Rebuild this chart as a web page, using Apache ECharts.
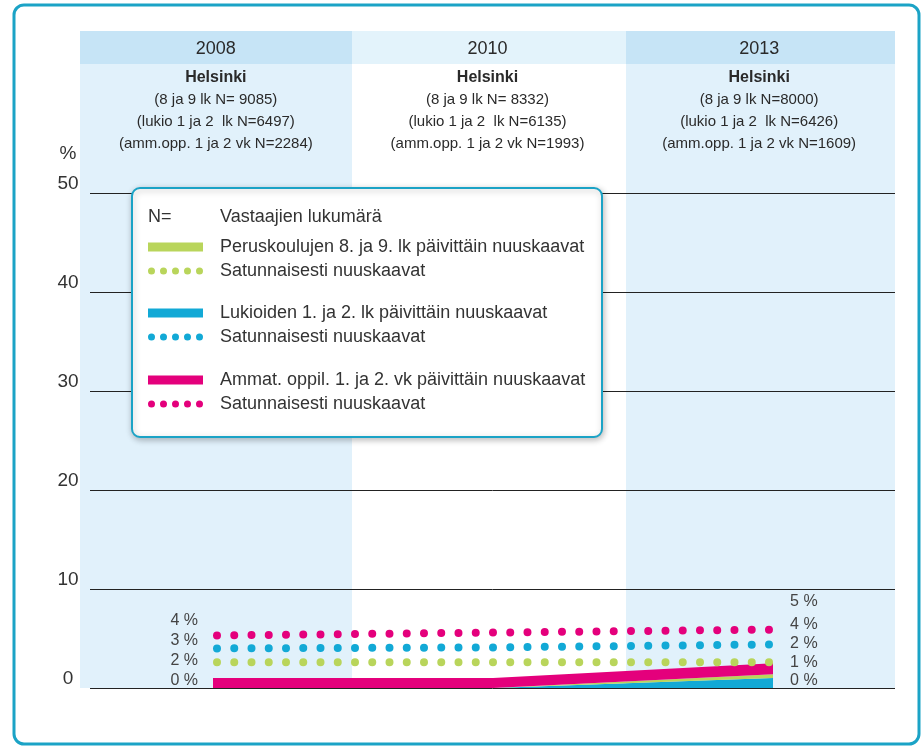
<!DOCTYPE html>
<html>
<head>
<meta charset="utf-8">
<title>Nuuskaaminen Helsingissä 2008-2013</title>
<script src="https://cdn.jsdelivr.net/npm/echarts@6/dist/echarts.min.js"></script>
<style>
  html, body { margin: 0; padding: 0; background: #fff; }
  #chart { width: 922px; height: 751px; }
</style>
</head>
<body>
<div id="chart"></div>
<script>
// vuodet ja otoskoot
var years = ['2008', '2010', '2013'];
var cities = ['Helsinki', 'Helsinki', 'Helsinki'];
var nPerus = ['(8 ja 9 lk N= 9085)', '(8 ja 9 lk N= 8332)', '(8 ja 9 lk N=8000)'];
var nLukio = ['(lukio 1 ja 2  lk N=6497)', '(lukio 1 ja 2  lk N=6135)', '(lukio 1 ja 2  lk N=6426)'];
var nAmmat = ['(amm.opp. 1 ja 2 vk N=2284)', '(amm.opp. 1 ja 2 vk N=1993)', '(amm.opp. 1 ja 2 vk N=1609)'];

var yTicks = [0, 10, 20, 30, 40, 50];

// päivittäin nuuskaavat (pinottu)
var lukioDaily = [0, 0, 1.0];
var perusDaily = [0, 0, 0.4];
var ammatDaily = [1.0, 1.0, 1.1];

// satunnaisesti nuuskaavat
var perusOcc = [2.6, 2.6, 2.6];
var lukioOcc = [4.0, 4.1, 4.4];
var ammatOcc = [5.3, 5.6, 5.9];

// arvotekstit alussa ja lopussa
var startLabels = ['4 %', '3 %', '2 %', '0 %'];
var endLabels = ['5 %', '4 %', '2 %', '1 %', '0 %'];

var GREEN = '#b9d55b', CYAN = '#12a9d6', PINK = '#e4007c';
var font = "'Liberation Sans', Arial, sans-serif";

var chart = echarts.init(document.getElementById('chart'));

function edge(v, text, side, dy) {
  return {
    value: v,
    label: {
      show: true,
      position: side,
      distance: side === 'left' ? 15 : 17,
      offset: [0, dy],
      formatter: text
    }
  };
}

var pointLabel = { fontFamily: font, fontSize: 16, color: '#444' };

function areaSeries(name, color, data) {
  return {
    name: name,
    type: 'line',
    xAxisIndex: 2,
    yAxisIndex: 2,
    stack: 'daily',
    symbol: 'circle',
    symbolSize: 0.1,
    itemStyle: { color: color },
    lineStyle: { width: 0, color: color },
    areaStyle: { color: color, opacity: 1 },
    label: pointLabel,
    emphasis: { disabled: true },
    data: data
  };
}

function dotSeries(name, color, data) {
  return {
    name: name,
    type: 'line',
    xAxisIndex: 2,
    yAxisIndex: 2,
    symbol: 'circle',
    symbolSize: 0.1,
    itemStyle: { color: color },
    lineStyle: { color: color, width: 8, type: [0, 17.25], dashOffset: 13.25, cap: 'round' },
    label: pointLabel,
    emphasis: { disabled: true },
    data: data
  };
}

// kuvakkeet 67x9, oikealla tyhjää tilaa tekstiin asti
var pad = 'M0,0L0,0M67,9L67,9';
var barIcon = 'path://M0,0L55,0L55,9L0,9Z' + pad;
var dotIcon = 'path://' + [3.5, 15.5, 27.5, 39.5, 51.5].map(function (c) {
  return 'M' + (c - 3.5) + ',4.5a3.5,3.5 0 1,0 7,0a3.5,3.5 0 1,0 -7,0';
}).join('') + pad;

function legendGroup(top, items) {
  return {
    orient: 'vertical',
    left: 148,
    top: top,
    padding: 0,
    itemWidth: 67,
    itemHeight: 9,
    itemGap: 4,
    selectedMode: false,
    z: 6,
    itemStyle: { borderWidth: 0 },
    textStyle: { fontFamily: font, fontSize: 18, lineHeight: 20, color: '#333' },
    formatter: function (name) { return name.split('|')[0]; },
    data: [
      { name: items[0], icon: barIcon },
      { name: items[1], icon: dotIcon }
    ]
  };
}

var option = {
  backgroundColor: '#fff',
  animation: false,
  graphic: [
    { type: 'rect', z: -5, shape: { x: 14, y: 5, width: 905, height: 739, r: 10 },
      style: { fill: '#fff', stroke: '#1ba3c6', lineWidth: 3 } },
    // sarakkeiden taustat
    { type: 'rect', z: -4, shape: { x: 80, y: 64, width: 272, height: 624 }, style: { fill: '#e1f1fb' } },
    { type: 'rect', z: -4, shape: { x: 626, y: 64, width: 269, height: 624 }, style: { fill: '#e1f1fb' } },
    { type: 'rect', z: -4, shape: { x: 80, y: 31, width: 272, height: 33 }, style: { fill: '#c6e4f6' } },
    { type: 'rect', z: -4, shape: { x: 352, y: 31, width: 274, height: 33 }, style: { fill: '#e3f3fb' } },
    { type: 'rect', z: -4, shape: { x: 626, y: 31, width: 269, height: 33 }, style: { fill: '#c6e4f6' } },
    // selitelaatikko
    { type: 'rect', z: 5, shape: { x: 132, y: 188, width: 470, height: 249, r: 8 },
      style: { fill: '#fff', stroke: '#1ba3c6', lineWidth: 2,
               shadowBlur: 6, shadowOffsetX: 1, shadowOffsetY: 2, shadowColor: 'rgba(0,0,0,0.25)' } },
    { type: 'text', z: 6, x: 148, y: 217,
      style: { text: 'N=', fontFamily: font, fontSize: 18, fill: '#333', verticalAlign: 'middle' } },
    { type: 'text', z: 6, x: 220, y: 217,
      style: { text: 'Vastaajien lukumärä', fontFamily: font, fontSize: 18, fill: '#333', verticalAlign: 'middle' } }
  ],
  legend: [
    legendGroup(237, ['Peruskoulujen 8. ja 9. lk päivittäin nuuskaavat', 'Satunnaisesti nuuskaavat|p']),
    legendGroup(303, ['Lukioiden 1. ja 2. lk päivittäin nuuskaavat', 'Satunnaisesti nuuskaavat|l']),
    legendGroup(370, ['Ammat. oppil. 1. ja 2. vk päivittäin nuuskaavat', 'Satunnaisesti nuuskaavat|a'])
  ],
  grid: [
    { left: 90, right: 27, top: 193, bottom: 63 },
    { left: 80, right: 27, top: 193, bottom: 63 },
    { left: 213, right: 149, top: 193, bottom: 63 }
  ],
  xAxis: [
    { gridIndex: 0, type: 'category', data: years, show: false },
    {
      gridIndex: 1, type: 'category', data: years, position: 'top',
      axisLine: { show: false }, axisTick: { show: false },
      axisLabel: {
        interval: 0,
        margin: 38,
        color: '#2a2a2a',
        formatter: function (v, i) {
          return '{y|' + v + '}\n{h|' + cities[i] + '}\n{t|' + nPerus[i] + '}\n{t|' + nLukio[i] + '}\n{t|' + nAmmat[i] + '}';
        },
        rich: {
          y: { fontFamily: font, fontSize: 18, lineHeight: 36, color: '#2a2a2a' },
          h: { fontFamily: font, fontSize: 16, fontWeight: 'bold', lineHeight: 22, color: '#2a2a2a' },
          t: { fontFamily: font, fontSize: 15, lineHeight: 22, color: '#2a2a2a' }
        }
      }
    },
    { gridIndex: 2, type: 'category', data: years, boundaryGap: false, show: false }
  ],
  yAxis: [
    {
      gridIndex: 0, type: 'value', min: yTicks[0], max: yTicks[yTicks.length - 1], interval: 10,
      name: '%', nameLocation: 'end', nameGap: 30,
      nameTextStyle: { fontFamily: font, fontSize: 19, color: '#333', align: 'center', padding: [0, 44, 0, 0] },
      axisLine: { show: false }, axisTick: { show: false },
      axisLabel: { fontFamily: font, fontSize: 19, color: '#333', align: 'center', verticalAlign: 'bottom', margin: 22 },
      splitLine: { lineStyle: { color: '#222', width: 1 } }
    },
    { gridIndex: 1, type: 'value', show: false },
    { gridIndex: 2, type: 'value', min: 0, max: 50, show: false }
  ],
  series: [
    areaSeries('Lukioiden 1. ja 2. lk päivittäin nuuskaavat', CYAN,
      [lukioDaily[0], lukioDaily[1], edge(lukioDaily[2], endLabels[4], 'right', 2)]),
    areaSeries('Peruskoulujen 8. ja 9. lk päivittäin nuuskaavat', GREEN, perusDaily),
    areaSeries('Ammat. oppil. 1. ja 2. vk päivittäin nuuskaavat', PINK,
      [edge(ammatDaily[0], startLabels[3], 'left', 2), ammatDaily[1], edge(ammatDaily[2], endLabels[3], 'right', -1)]),
    dotSeries('Satunnaisesti nuuskaavat|p', GREEN,
      [edge(perusOcc[0], startLabels[2], 'left', -2), perusOcc[1], edge(perusOcc[2], endLabels[2], 'right', -19)]),
    dotSeries('Satunnaisesti nuuskaavat|l', CYAN,
      [edge(lukioOcc[0], startLabels[1], 'left', -8), lukioOcc[1], edge(lukioOcc[2], endLabels[1], 'right', -20)]),
    dotSeries('Satunnaisesti nuuskaavat|a', PINK,
      [edge(ammatOcc[0], startLabels[0], 'left', -15), ammatOcc[1], edge(ammatOcc[2], endLabels[0], 'right', -28)])
  ]
};

chart.setOption(option);
</script>
</body>
</html>
